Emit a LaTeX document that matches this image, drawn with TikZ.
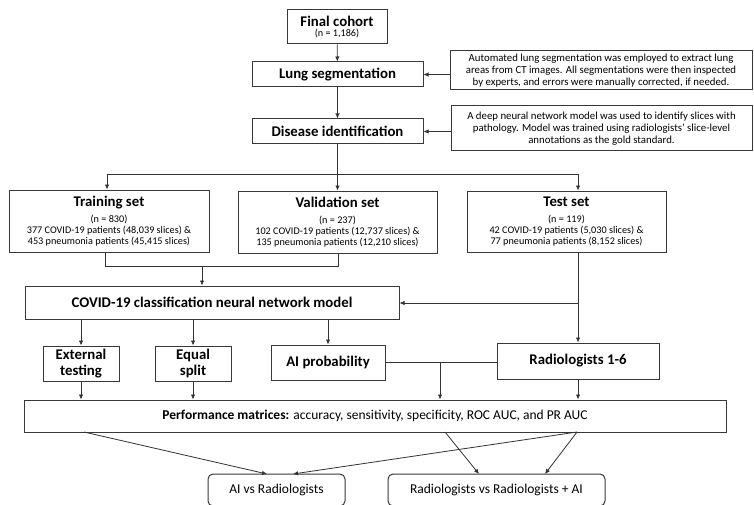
\documentclass[tikz,border=0pt]{standalone}
\usepackage{fontspec}
\setmainfont{Carlito}
\usetikzlibrary{arrows.meta}
\newcommand\fttl{\fontsize{14.8}{17}\selectfont\bfseries}
\newcommand\fsml{\fontsize{10.2}{11}\selectfont}
\newcommand\fnte{\fontsize{10.8}{11.7}\selectfont}
\newcommand\fmid{\fontsize{13.5}{16}\selectfont}
\begin{document}
\begin{tikzpicture}[x=1pt,y=-1pt,
  box/.style={draw=black!78, line width=1pt, inner sep=0pt, align=center, fill=white},
  rbox/.style={box, rounded corners=5pt},
  ln/.style={draw=black!80, line width=0.8pt},
  arr/.style={ln, -{Latex[length=5pt,width=4.5pt]}}]
\useasboundingbox (0,0) rectangle (754,505);
\clip (0,0) rectangle (754,505);
\fill[white] (0,0) rectangle (754,505);

% top chain
\node[box, minimum width=100pt, minimum height=34pt] (final) at (337,27)
  {{\fttl Final cohort}\\[-2pt]{\fsml (n = 1,186)}};
\node[box, minimum width=171pt, minimum height=25pt] (lung) at (337.5,74.5)
  {\fttl Lung segmentation};
\node[box, minimum width=171pt, minimum height=25pt] (dis) at (337.5,131.5)
  {\fttl Disease identification};
\node[box, minimum width=302pt, minimum height=39pt, font=\fnte] (note1) at (601,70.5)
  {Automated lung segmentation was employed to extract lung\\
   areas from CT images. All segmentations were then inspected\\
   by experts, and errors were manually corrected, if needed.};
\node[box, minimum width=301pt, minimum height=45pt, font=\fnte] (note2) at (601.5,128.5)
  {A deep neural network model was used to identify slices with\\
   pathology. Model was trained using radiologists’ slice-level\\
   annotations as the gold standard.};

% sets
\node[box, minimum width=200pt, minimum height=62pt, font=\fsml] (train) at (109,221)
  {{\fttl Training set}\\[5pt]
   (n = 830)\\
   377 COVID-19 patients (48,039 slices) \&\\
   453 pneumonia patients (45,415 slices)};
\node[box, minimum width=199pt, minimum height=62pt, font=\fsml] (valid) at (337.5,222)
  {{\fttl Validation set}\\[5pt]
   (n = 237)\\
   102 COVID-19 patients (12,737 slices) \&\\
   135 pneumonia patients (12,210 slices)};
\node[box, minimum width=199pt, minimum height=61pt, font=\fsml] (test) at (566.5,221.5)
  {{\fttl Test set}\\[5pt]
   (n = 119)\\
   42 COVID-19 patients (5,030 slices) \&\\
   77 pneumonia patients (8,152 slices)};

% model and outputs
\node[box, minimum width=374pt, minimum height=33pt] (cnn) at (212,302.5)
  {\fttl COVID-19 classification neural network model};
\node[box, minimum width=76pt, minimum height=35pt, font=\fttl, align=center] (ext) at (81,363.5)
  {External\\[-1pt]testing};
\node[box, minimum width=76pt, minimum height=35pt, font=\fttl] (eq) at (193,363.5)
  {Equal\\[-1pt]split};
\node[box, minimum width=114pt, minimum height=35pt] (aip) at (328,362.5)
  {\fttl AI probability};
\node[box, minimum width=162pt, minimum height=36pt] (rad) at (578,361)
  {\fttl Radiologists 1-6};
\node[box, minimum width=702pt, minimum height=32pt, font=\fmid] (perf) at (375,416)
  {\textbf{Performance matrices:} accuracy, sensitivity, specificity, ROC AUC, and PR AUC};
\node[rbox, minimum width=137pt, minimum height=32pt, font=\fmid] (aivr) at (276.5,490)
  {AI vs Radiologists};
\node[rbox, minimum width=217pt, minimum height=32pt, font=\fmid] (rvr) at (496.5,490)
  {Radiologists vs Radiologists + AI};

% connectors top
\draw[arr] (final) -- (lung);
\draw[arr] (lung) -- (dis);
\draw[arr] (note1.west |- lung.east) -- (lung.east);
\draw[arr] (note2.west |- dis.east) -- (dis.east);

\coordinate (sl) at (107,174);
\coordinate (sr) at (578,174);
\draw[ln] (sl) -- (sr);
\draw[arr] (dis.south) -- (valid.north);
\draw[arr] (sl) -- (sl |- train.north);
\draw[arr] (sr) -- (sr |- test.north);

\coordinate (ml) at (105,266);
\coordinate (mr) at (338,266);
\coordinate (mm) at (202,266);
\draw[ln] (ml |- train.south) -- (ml) -- (mr) -- (mr |- valid.south);
\draw[arr] (mm) -- (mm |- cnn.north);

\coordinate (tb) at (578,303);
\draw[ln] (sr |- test.south) -- (tb);
\draw[arr] (tb) -- (cnn.east |- tb);
\draw[arr] (tb) -- (rad.north);

\draw[arr] (ext.north |- cnn.south) -- (ext.north);
\draw[arr] (eq.north |- cnn.south) -- (eq.north);
\draw[arr] (aip.north |- cnn.south) -- (aip.north);
\draw[arr] (ext.south) -- (ext.south |- perf.north);
\draw[arr] (eq.south) -- (eq.south |- perf.north);
\draw[arr] (rad.south) -- (rad.south |- perf.north);
\coordinate (j) at (440,362);
\draw[ln] (aip.east |- j) -- (rad.west |- j);
\draw[arr] (j) -- (j |- perf.north);

% bottom
\coordinate (p1) at (84,432);
\coordinate (p2) at (445,432);
\coordinate (p3) at (577,432);
\coordinate (a1) at (267,474);
\coordinate (a2) at (293,474);
\coordinate (b1) at (479,474);
\coordinate (b2) at (545,474);
\draw[arr] (p1) -- (a1);
\draw[arr] (p3) -- (a2);
\draw[arr] (p2) -- (b1);
\draw[arr] (p3) -- (b2);
\end{tikzpicture}
\end{document}
